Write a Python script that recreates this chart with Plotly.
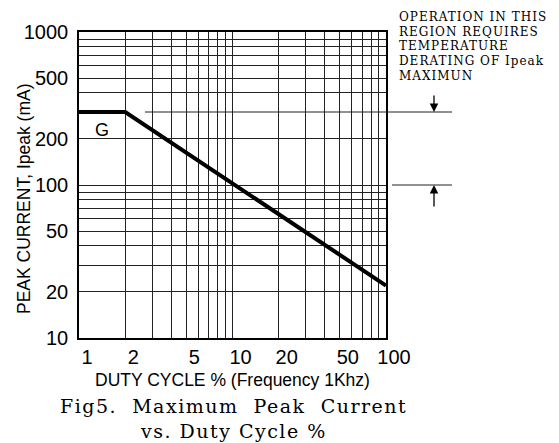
import plotly.graph_objects as go
import math

# ---- data ----
duty_cycle = [1, 2, 100]          # %
peak_current = [300, 300, 22]     # mA

x_grid = [1, 2, 3, 4, 5, 6, 7, 8, 9, 10, 20, 30, 40, 50, 60, 70, 80, 90, 100]
x_labels = ["1", "2", "", "", "5", "", "", "", "", "10", "20", "", "", "50", "", "", "", "", "100"]
y_grid = [10, 20, 30, 40, 50, 60, 70, 80, 90, 100, 200, 400, 500, 600, 700, 800, 900, 1000]
y_labels = ["10", "20", "", "", "50", "", "", "", "", "100", "200", "", "500", "", "", "", "", "1000"]

derate_top = 300
derate_bottom = 100
note_lines = ["OPERATION IN THIS", "REGION REQUIRES", "TEMPERATURE", "DERATING OF Ipeak", "MAXIMUN"]
caption_lines = ["Fig5.  Maximum  Peak  Current", "vs. Duty Cycle %"]

SANS = "Liberation Sans, Arial, sans-serif"
SERIF = "DejaVu Serif, serif"

H_PLOT = 306.0

def ypaper(v):
    return (math.log10(v) - 1) / 2

def ypx(py):
    return (338 - py) / H_PLOT

def xpx(px):
    return (px - 79) / 307.0

def spaced(t, sp):
    return '<span style="letter-spacing:%spx">%s</span>' % (sp, t)

fig = go.Figure()
fig.add_trace(go.Scatter(
    x=duty_cycle, y=peak_current, mode="lines",
    line=dict(color="black", width=4), showlegend=False, hoverinfo="skip"))

fig.update_layout(
    width=559, height=443,
    margin=dict(l=79, r=173, t=32, b=105, autoexpand=False),
    paper_bgcolor="white", plot_bgcolor="white",
    showlegend=False,
    xaxis=dict(type="log", range=[0, 2], tickvals=x_grid, ticktext=x_labels,
               showgrid=True, gridcolor="#222", gridwidth=1,
               showline=True, linecolor="black", linewidth=1.5, mirror=True,
               ticks="", ticklen=0, ticklabelshift=8, ticklabelstandoff=0,
               tickfont=dict(family=SANS, size=20, color="black"),
               automargin=False, zeroline=False, fixedrange=True),
    yaxis=dict(type="log", range=[1, 3], tickvals=y_grid, ticktext=y_labels,
               showgrid=True, gridcolor="#222", gridwidth=1,
               showline=True, linecolor="black", linewidth=1.5, mirror=True,
               ticks="", ticklen=0, ticklabelstandoff=5,
               tickfont=dict(family=SANS, size=20, color="black"),
               automargin=False, zeroline=False, fixedrange=True),
)

# derating reference lines
fig.add_shape(type="line", xref="paper", yref="paper",
              x0=xpx(145), x1=xpx(452), y0=ypaper(derate_top), y1=ypaper(derate_top),
              line=dict(color="#222", width=1))
fig.add_shape(type="line", xref="paper", yref="paper",
              x0=xpx(392), x1=xpx(452), y0=ypaper(derate_bottom), y1=ypaper(derate_bottom),
              line=dict(color="#222", width=1))

# arrows
fig.add_annotation(xref="paper", yref="paper", x=xpx(434), y=ypaper(derate_top),
                   ax=0, ay=-18, text="", showarrow=True, arrowhead=2,
                   arrowsize=1.3, arrowwidth=1.3, arrowcolor="black")
fig.add_annotation(xref="paper", yref="paper", x=xpx(434), y=ypaper(derate_bottom),
                   ax=0, ay=23, text="", showarrow=True, arrowhead=2,
                   arrowsize=1.3, arrowwidth=1.3, arrowcolor="black")

for i, line in enumerate(note_lines):
    fig.add_annotation(xref="paper", yref="paper", x=xpx(397), y=ypx(17 + 14.7 * i),
                       xanchor="left", yanchor="middle", showarrow=False,
                       text=spaced(line, 1), font=dict(family=SERIF, size=12, color="black"))

# curve label
fig.add_annotation(xref="x", yref="y", x=math.log10(1.42), y=math.log10(228),
                   xanchor="center", yanchor="middle",
                   text="G", showarrow=False,
                   font=dict(family=SANS, size=18, color="black"))

# axis titles
fig.add_annotation(xref="paper", yref="paper", x=xpx(232), y=ypx(380),
                   xanchor="center", yanchor="middle",
                   text="DUTY CYCLE % (Frequency 1Khz)", showarrow=False,
                   font=dict(family=SANS, size=17.5, color="black"))
fig.add_annotation(xref="paper", yref="paper", x=xpx(24), y=ypx(199), textangle=-90,
                   xanchor="center", yanchor="middle",
                   text="PEAK CURRENT, Ipeak (mA)", showarrow=False,
                   font=dict(family=SANS, size=17.5, color="black"))

# caption
fig.add_annotation(xref="paper", yref="paper", x=xpx(233), y=ypx(406),
                   xanchor="center", yanchor="middle",
                   text=spaced(caption_lines[0], 1.5), showarrow=False,
                   font=dict(family=SERIF, size=19, color="black"))
fig.add_annotation(xref="paper", yref="paper", x=xpx(233), y=ypx(431),
                   xanchor="center", yanchor="middle",
                   text=spaced(caption_lines[1], 1.5), showarrow=False,
                   font=dict(family=SERIF, size=19, color="black"))

fig.write_html("out.html", config={"displayModeBar": False},
               post_script="document.body.style.margin='0';")
